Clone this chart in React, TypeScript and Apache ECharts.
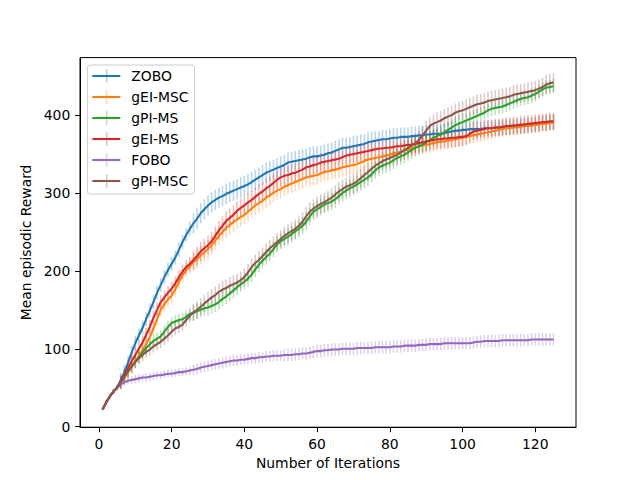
import React, { useEffect, useRef } from "react";
import * as echarts from "echarts";

const ITER: number[] = Array.from({ length: 125 }, (_, i) => i + 1);

const ZOBO = [
  22, 31, 39, 45, 50, 60, 70, 82, 95, 107,
  117, 127, 138, 149, 160, 172, 182, 192, 201, 209,
  217, 227, 237, 246, 254, 261, 267, 274, 279, 284,
  288, 291, 294, 296, 299, 301, 303, 305, 307, 309,
  311, 314, 317, 320, 323, 326, 328, 330, 332, 334,
  336, 339, 340, 341, 342, 343, 344, 346, 347, 347,
  348, 349, 351, 352, 354, 356, 358, 358, 359, 360,
  361, 362, 363, 365, 366, 367, 368, 369, 369, 370,
  371, 371, 372, 372, 372, 373, 373, 374, 374, 375,
  375, 376, 376, 376, 377, 378, 379, 380, 380, 381,
  381, 382, 382, 382, 382, 383, 383, 383, 384, 384,
  384, 385, 385, 385, 386, 386, 386, 387, 387, 388,
  389, 390, 390, 391, 391,
];
const GEI_MSC = [
  22, 31, 39, 45, 50, 56, 63, 70, 77, 84,
  91, 98, 106, 115, 126, 138, 150, 157, 163, 168,
  176, 186, 194, 201, 206, 211, 215, 220, 224, 228,
  233, 239, 245, 250, 255, 259, 263, 266, 269, 272,
  276, 280, 284, 287, 290, 294, 297, 300, 303, 305,
  308, 310, 312, 314, 316, 318, 320, 321, 322, 323,
  325, 327, 328, 329, 330, 331, 333, 334, 335, 336,
  337, 339, 341, 343, 344, 345, 346, 347, 348, 349,
  351, 352, 353, 354, 356, 357, 359, 360, 361, 362,
  363, 364, 365, 366, 366, 367, 368, 369, 370, 371,
  372, 373, 374, 375, 376, 377, 378, 379, 380, 381,
  382, 383, 383, 384, 384, 385, 386, 386, 387, 387,
  388, 389, 389, 390, 390,
];
const GPI_MS = [
  22, 31, 39, 45, 50, 57, 64, 71, 77, 83,
  89, 95, 101, 106, 110, 113, 116, 122, 128, 133,
  135, 137, 138, 141, 145, 146, 148, 150, 152, 153,
  155, 157, 160, 164, 167, 171, 175, 179, 183, 186,
  190, 195, 202, 208, 213, 218, 222, 228, 234, 238,
  241, 244, 247, 251, 254, 258, 263, 270, 276, 279,
  282, 285, 287, 289, 292, 296, 300, 303, 306, 308,
  311, 314, 317, 320, 324, 329, 333, 335, 337, 339,
  342, 345, 347, 349, 352, 355, 358, 360, 362, 365,
  368, 371, 373, 375, 378, 381, 384, 387, 389, 391,
  393, 395, 397, 399, 401, 403, 406, 408, 409, 410,
  411, 413, 415, 417, 419, 421, 422, 423, 425, 427,
  430, 433, 435, 436, 437,
];
const GEI_MS = [
  22, 31, 39, 45, 50, 58, 66, 75, 84, 92,
  100, 108, 118, 128, 140, 150, 160, 166, 172, 177,
  184, 192, 199, 205, 209, 214, 219, 225, 229, 233,
  238, 245, 252, 258, 264, 268, 272, 277, 281, 284,
  288, 291, 295, 299, 302, 306, 309, 313, 317, 320,
  322, 323, 325, 326, 328, 330, 333, 334, 336, 337,
  339, 340, 341, 342, 343, 344, 346, 348, 349, 350,
  351, 352, 353, 354, 355, 356, 357, 357, 358, 358,
  359, 360, 360, 361, 362, 362, 363, 364, 365, 366,
  367, 368, 369, 369, 370, 370, 371, 371, 372, 372,
  373, 376, 379, 380, 381, 382, 383, 383, 384, 384,
  385, 386, 386, 387, 387, 388, 388, 389, 389, 390,
  390, 391, 391, 392, 392,
];
const FOBO = [
  22, 31, 39, 45, 50, 54, 57, 59, 60, 61,
  62, 63, 63, 64, 65, 66, 66, 67, 68, 68,
  69, 70, 70, 71, 72, 73, 74, 76, 77, 78,
  79, 80, 81, 82, 83, 84, 85, 85, 86, 86,
  87, 88, 88, 89, 89, 90, 90, 91, 91, 91,
  92, 92, 92, 93, 93, 94, 94, 95, 96, 97,
  97, 98, 98, 99, 99, 99, 100, 100, 100, 100,
  101, 101, 101, 101, 101, 102, 102, 102, 102, 102,
  103, 103, 103, 104, 104, 104, 104, 105, 105, 105,
  106, 106, 106, 106, 107, 107, 107, 107, 107, 107,
  107, 107, 108, 109, 109, 110, 110, 110, 110, 110,
  111, 111, 111, 111, 111, 111, 111, 111, 112, 112,
  112, 112, 112, 112, 112,
];
const GPI_MSC = [
  22, 31, 39, 45, 50, 57, 64, 71, 77, 83,
  88, 92, 96, 99, 103, 106, 109, 113, 117, 122,
  126, 128, 131, 137, 142, 147, 150, 154, 158, 162,
  166, 169, 173, 176, 178, 181, 183, 185, 188, 192,
  198, 205, 210, 214, 219, 224, 229, 233, 237, 241,
  245, 248, 251, 254, 258, 263, 270, 276, 280, 283,
  286, 288, 291, 294, 298, 302, 305, 308, 310, 312,
  315, 319, 323, 327, 331, 335, 338, 341, 343, 345,
  347, 349, 352, 355, 358, 361, 364, 368, 374, 380,
  386, 389, 391, 393, 396, 398, 400, 403, 405, 406,
  408, 410, 412, 414, 415, 416, 418, 419, 420, 421,
  422, 423, 424, 426, 427, 428, 429, 430, 431, 432,
  434, 436, 439, 441, 442,
];

// error half-widths, held constant within iteration blocks ending at these iterations
const ERR_BLOCK_END = [1, 5, 25, 50, 75, 100, 125];
const ERR_ZOBO = [0, 3, 9, 13, 13, 12, 10];
const ERR_GEI_MSC = [0, 3, 9, 12, 12, 11, 10];
const ERR_GPI_MS = [0, 3, 8, 10, 11, 11, 9];
const ERR_GEI_MS = [0, 3, 9, 12, 12, 12, 11];
const ERR_FOBO = [0, 2, 5, 7, 8, 8, 8];
const ERR_GPI_MSC = [0, 3, 8, 11, 12, 12, 12];

const NAMES = ["ZOBO", "gEI-MSC", "gPI-MS", "gEI-MS", "FOBO", "gPI-MSC"];
const VALUES = [ZOBO, GEI_MSC, GPI_MS, GEI_MS, FOBO, GPI_MSC];
const ERRS = [ERR_ZOBO, ERR_GEI_MSC, ERR_GPI_MS, ERR_GEI_MS, ERR_FOBO, ERR_GPI_MSC];
const COLORS = ["#1f77b4", "#ff7f0e", "#2ca02c", "#d62728", "#9467bd", "#8c564b"];

const X_TICKS = [0, 20, 40, 60, 80, 100, 120];
const Y_TICKS = [0, 100, 200, 300, 400];

const FONT = "DejaVu Sans";
const FS = 13.9;

function errFor(errs: number[], it: number): number {
  for (let i = 0; i < ERR_BLOCK_END.length; i++) {
    if (it <= ERR_BLOCK_END[i]) return errs[i];
  }
  return errs[errs.length - 1];
}

export default function App() {
  const ref = useRef<HTMLDivElement>(null);
  useEffect(() => {
    if (!ref.current) return;
    const chart = echarts.init(ref.current, null, { renderer: "svg" });
    const series: any[] = [];
    NAMES.forEach((name, si) => {
      const vals = VALUES[si];
      const color = COLORS[si];
      series.push({
        type: "line",
        name,
        data: ITER.map((x, i) => [x, vals[i]]),
        showSymbol: false,
        symbol: "none",
        color,
        lineStyle: { color, width: 2.08 },
        z: 2,
        silent: true,
      });
      series.push({
        type: "custom",
        name: name + " err",
        data: ITER.map((x, i) => {
          const e = errFor(ERRS[si], x);
          return [x, vals[i] - e, vals[i] + e];
        }),
        encode: { x: 0, y: [1, 2] },
        z: 2,
        silent: true,
        renderItem: (params: any, api: any) => {
          const p1 = api.coord([api.value(0), api.value(1)]);
          const p2 = api.coord([api.value(0), api.value(2)]);
          return {
            type: "line",
            shape: { x1: p1[0], y1: p1[1], x2: p2[0], y2: p2[1] },
            style: { stroke: color, lineWidth: 1.6, opacity: 0.3 },
          };
        },
      });
    });

    const legendCenters = [76, 97, 118, 139, 160, 181];
    const graphic = legendCenters.map((cy, i) => ({
      type: "line",
      shape: { x1: 106.7, y1: cy - 7, x2: 106.7, y2: cy + 7 },
      style: { stroke: COLORS[i], lineWidth: 1.6, opacity: 0.3 },
      z: 100,
      silent: true,
    }));

    chart.setOption({
      animation: false,
      backgroundColor: "#fff",
      grid: {
        left: 80,
        right: 64,
        top: 57.6,
        bottom: 52.8,
        show: true,
        borderColor: "#000",
        borderWidth: 1,
        backgroundColor: "transparent",
      },
      legend: {
        data: NAMES,
        orient: "vertical",
        left: 87.3,
        top: 65,
        itemWidth: 28,
        itemHeight: 14,
        itemGap: 7,
        icon: "path://M0,0H28V2.1H0Z",
        padding: [4, 6, 6, 5],
        backgroundColor: "rgba(255,255,255,0.8)",
        borderColor: "#cccccc",
        borderWidth: 1,
        borderRadius: 3,
        textStyle: { fontFamily: FONT, fontSize: FS, color: "#000", padding: [0, 0, 0, 6] },
      },
      graphic,
      xAxis: {
        type: "value",
        min: -5.2,
        max: 131.2,
        name: "Number of Iterations",
        nameLocation: "middle",
        nameGap: 27,
        nameTextStyle: { fontFamily: FONT, fontSize: FS, color: "#000" },
        splitLine: { show: false },
        axisLine: { onZero: false, lineStyle: { color: "#000", width: 1 } },
        axisTick: { show: true, length: 5, lineStyle: { color: "#000", width: 1 }, customValues: X_TICKS },
        axisLabel: {
          fontFamily: FONT,
          fontSize: FS,
          color: "#000",
          margin: 9.7,
          customValues: X_TICKS,
        },
      },
      yAxis: {
        type: "value",
        min: -0.7,
        max: 473.8,
        name: "Mean episodic Reward",
        nameLocation: "middle",
        nameGap: 40,
        nameTextStyle: { fontFamily: FONT, fontSize: FS, color: "#000" },
        splitLine: { show: false },
        axisLine: { show: true, onZero: false, lineStyle: { color: "#000", width: 1 } },
        axisTick: { show: true, length: 5, lineStyle: { color: "#000", width: 1 }, customValues: Y_TICKS },
        axisLabel: {
          fontFamily: FONT,
          fontSize: FS,
          color: "#000",
          margin: 9.7,
          customValues: Y_TICKS,
        },
      },
      series,
    });
    return () => chart.dispose();
  }, []);
  return (
    <div
      ref={ref}
      style={{ position: "absolute", left: 0, top: 0, width: 640, height: 480, background: "#fff" }}
    />
  );
}
